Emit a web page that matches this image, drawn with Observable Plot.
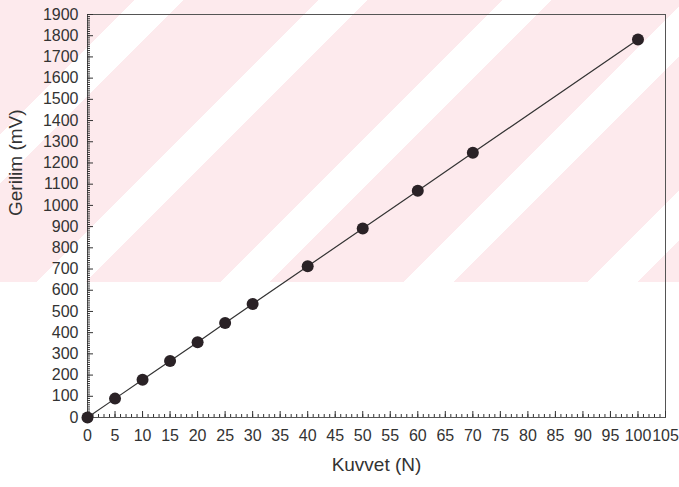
<!DOCTYPE html>
<html>
<head>
<meta charset="utf-8">
<script src="https://cdn.jsdelivr.net/npm/d3@7"></script>
<script src="https://cdn.jsdelivr.net/npm/@observablehq/plot@0.6"></script>
<style>
  body { margin: 0; background: #fff; }
  #chart { position: relative; width: 679px; height: 487px; }
  #chart::before {
    content: ""; position: absolute; left: 0; top: 0; width: 679px; height: 282px;
    background: repeating-linear-gradient(135deg, #fdeaed 0 95px, #ffffff 95px 130px);
  }
  #chart svg { position: relative; }
</style>
</head>
<body>
<div id="chart"></div>
<script>
// Kuvvet (N) ve ölçülen gerilim (mV)
const kuvvet  = [0, 5, 10, 15, 20, 25, 30, 40, 50, 60, 70, 100];
const gerilim = [0, 89, 178, 266, 355, 445, 535, 713, 891, 1069, 1248, 1782];

const xTicks = d3.range(0, 106, 5);
const yTicks = d3.range(0, 1901, 100);
const xMinor = d3.range(0, 106, 1);
const yMinor = d3.range(0, 1901, 10);

const W = 679, H = 487;
const mL = 87, mR = 14, mT = 14, mB = 70;
const plotW = W - mL - mR, plotH = H - mT - mB;

const data = kuvvet.map((k, i) => ({kuvvet: k, gerilim: gerilim[i]}));
const ink = "#333";
const fmt = d3.format("d");

const chart = Plot.plot({
  width: W, height: H,
  marginLeft: mL, marginRight: mR, marginTop: mT, marginBottom: mB,
  style: {background: "transparent", fontFamily: "'Liberation Sans', Arial, sans-serif", color: ink},
  x: {domain: [0, 105]},
  y: {domain: [0, 1900]},
  marks: [
    Plot.frame({stroke: "#555", strokeWidth: 1}),
    // inward ticks on the bottom and left edges
    Plot.tickX(xMinor, {x: d => d, stroke: ink, insetTop: plotH - 3}),
    Plot.tickX(xTicks, {x: d => d, stroke: ink, insetTop: plotH - 6}),
    Plot.tickY(yMinor, {y: d => d, stroke: ink, insetRight: plotW - 3}),
    Plot.tickY(yTicks, {y: d => d, stroke: ink, insetRight: plotW - 6}),
    Plot.axisX(xTicks, {tickSize: 0, tickPadding: 12, fontSize: 16, label: null, fill: ink, tickFormat: fmt}),
    Plot.axisY(yTicks, {tickSize: 0, tickPadding: 9, fontSize: 16, label: null, fill: ink, tickFormat: fmt}),
    Plot.text(["Kuvvet (N)"], {frameAnchor: "bottom", dy: 53, fontSize: 19, fill: ink}),
    Plot.text(["Gerilim (mV)"], {frameAnchor: "left", dx: -72, rotate: -90, fontSize: 19, fill: ink}),
    Plot.line(data, {x: "kuvvet", y: "gerilim", stroke: ink, strokeWidth: 1.2}),
    Plot.dot(data, {x: "kuvvet", y: "gerilim", r: 6, fill: "#2a2226", stroke: "none"})
  ]
});
document.getElementById("chart").append(chart);
</script>
</body>
</html>
